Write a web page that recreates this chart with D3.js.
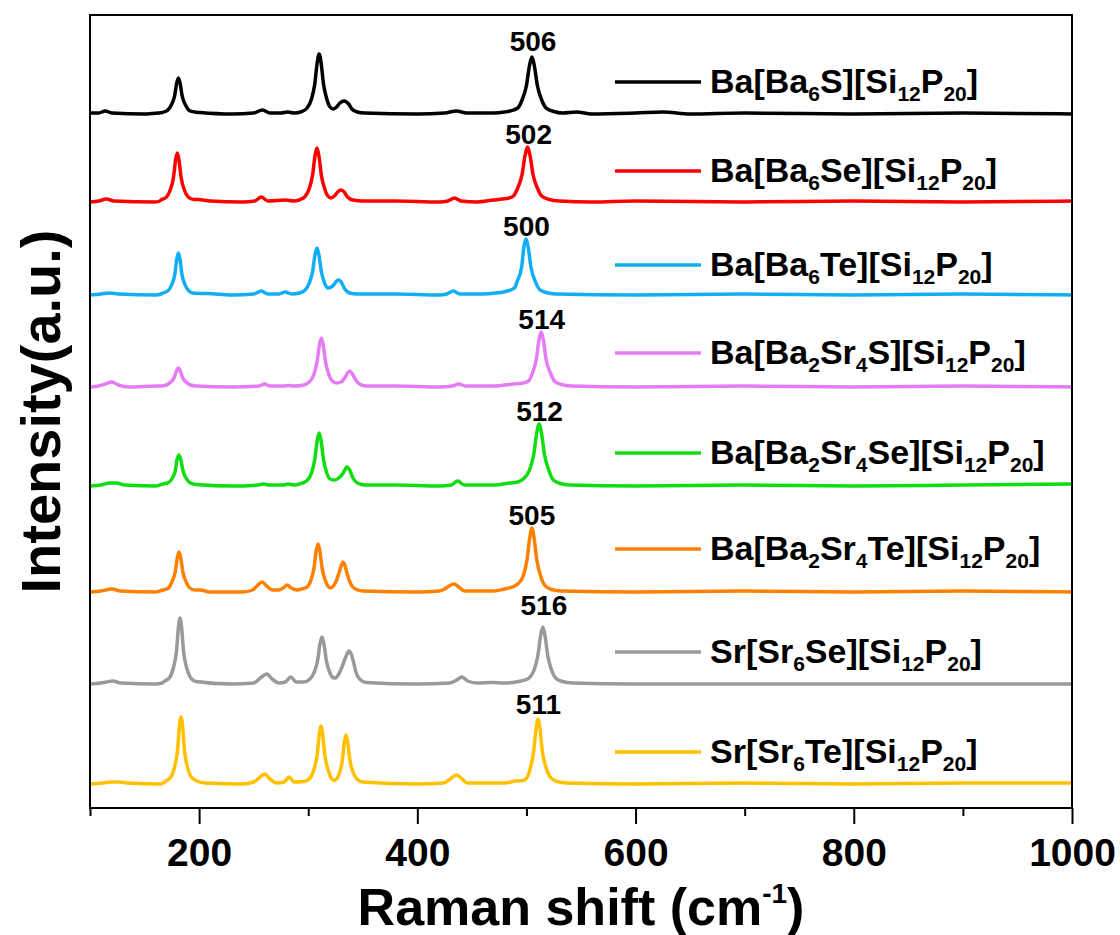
<!DOCTYPE html>
<html>
<head>
<meta charset="utf-8">
<script src="https://cdn.jsdelivr.net/npm/d3@7"></script>
<style>
  body { margin: 0; background: #fff; }
  text { font-family: "Liberation Sans", Arial, sans-serif; font-weight: bold; fill: #000; }
</style>
</head>
<body>
<div id="chart"></div>
<script>
// sample names (every digit is a subscript)
var names = ["Ba[Ba6S][Si12P20]", "Ba[Ba6Se][Si12P20]", "Ba[Ba6Te][Si12P20]",
             "Ba[Ba2Sr4S][Si12P20]", "Ba[Ba2Sr4Se][Si12P20]", "Ba[Ba2Sr4Te][Si12P20]",
             "Sr[Sr6Se][Si12P20]", "Sr[Sr6Te][Si12P20]"];
var peakLabels = ["506", "502", "500", "514", "512", "505", "516", "511"];
// vertical stacking offset of each spectrum (a.u.)
var offsets = [694, 606, 513, 421, 322, 216, 124, 24];
var xTicks = [200, 400, 600, 800, 1000];
var xMinorTicks = [100, 300, 500, 700, 900];

// spectra: [Raman shift (cm-1), intensity (a.u.)]
var ba6S = [[100,1],[108,1],[114,3],[120,1],[150,0],[162,1],
  [166,1.5],[171,3.6],[174.5,9],[177.5,18],[179.4,30.6],[181,36],[182.6,30.6],[184.5,18],[187.5,9],[191,3.6],[196,2],
  [201,1.5],[230,0],[250,1],[258,4],[265,1],[275,1],[281,2],[287,1],
  [294,2.4],[299,6],[303,15],[306,30],[308.2,51],[310,60],[311.8,51],[314,30],[317,15],[320,7],[323,5],
  [326,7],[329,11],[333,13],[337,10],[340,5],[345,2],[352,1],
  [400,0],[425,1],[436,3],[445,1],[470,1],[480,2],
  [485,3],[492,6],[496,14],[500,28.5],[502.8,48.5],[505,57],[507.2,48.5],[510,28.5],[514,14],[518,6],[525,2.5],[533,1],
  [546,2],[560,0],[600,1],[625,2],[650,0],[700,1],[800,0],[900,1],[1000,0]];

var ba6Se = [[100,0],[108,1],[115,3],[122,1],[160,0],[164,1],
  [165,2],[170,4.9],[173.5,12],[176.5,24.5],[178.4,41.6],[180,49],[181.6,41.6],[183.5,24.5],[186.5,12],[190,5],[195,2.5],
  [199,2.5],[210,1],[240,0],[251,1],[257,5],[263,1],[279,2],[287,1],
  [292,2.2],[297,5.4],[301,13.5],[304,27],[306.2,46],[308,54],[309.8,46],[312,27],[315,13.5],[318,6],[321,4],
  [324,6],[327,10],[330,12],[333,10],[336,5],[341,2],[350,1],
  [380,1],[420,0],[428,1],[434,4],[440,1],[455,0],[470,2],[478,3],
  [484,4],[488,6],[492,14],[496,27.5],[498.8,47],[501,55],[503.2,47],[506,27.5],[510,14],[514,6],[521,2.5],[530,1],
  [560,0],[600,1],[700,0],[800,1],[900,0],[1000,1]];

var ba6Te = [[100,0],[110,1],[118,2],[126,1],[160,0],[165,1],
  [167,2],[171.5,4.2],[175,10.5],[177.8,21],[179.5,35.7],[181,42],[182.5,35.7],[184.2,21],[187,10.5],[190.5,4.2],[195,1.7],
  [208,1.5],[230,0],[250,1],[257,4],[263,1],[273,1],[279,3],[285,1],
  [292,2],[297,4.7],[301,12],[304,23.5],[306.2,40],[308,47],[309.8,40],[312,23.5],[315,12],[318,7],[321,8],
  [324,11],[326,14],[328,15],[330.5,12.5],[333.5,6],[338,2],[345,1],
  [380,1],[420,0],[427,1],[433,4],[439,1],[460,1],[472,2],[479,3],
  [484,4.5],[489,7],[491.6,14],[495.6,28],[497.6,47.6],[499.6,56],[501.6,47.6],[504.1,28],[508,14],[512,5.6],[518,2.5],[527,1],
  [600,0],[700,1],[800,0],[900,1],[1000,0]];

var ba2Sr4S = [[100,0],[108,1],[114,3],[120,5],[126,2],[135,0],[162,1],
  [165,1],[170,2],[174,5],[177.2,9.5],[179.3,16],[181,19],[182.7,16],[184.8,9.5],[188,5],[192,2],[197,1],
  [230,0],[255,1],[260,3],[265,1],[278,1],[282,1.5],[286,1],
  [294,1.5],[301,5],[305,12],[308,24.5],[310.2,41.5],[312,49],[313.8,41.5],[316,24.5],[319,12],[322,6],[326,4],
  [330,5],[334,10],[336,14],[338,16],[340.5,13],[343.5,7],[347,3],[353,1],
  [380,1],[420,0],[432,1],[438,3],[444,1],[470,1],[488,3],
  [497,4],[502,6],[505.5,14],[509,27.5],[511.5,47],[513.5,55],[515.5,47],[518,27.5],[522,14],[526,5.5],[532,2.5],[541,1],
  [600,0],[700,1],[800,0],[900,1],[1000,0]];

var ba2Sr4Se = [[100,0],[110,1],[118,3],[124,3],[132,1],[160,0],[164,1],
  [167,2],[172,3.5],[175.5,8],[178.2,15.5],[179.8,26.5],[181.5,31],[183.2,26.5],[185.2,15.5],[188,8],[191.5,3.5],[197,1.5],
  [230,0],[254,1],[259,2],[264,1],[277,1],[282,2],[287,1],
  [292,2],[299,5.5],[303,13],[306,26.5],[308.2,45],[310,53],[311.8,45],[314,26.5],[317,13],[320,7],[324,6],
  [328,8],[332,13],[334,17],[335.5,19],[338,16],[341,8],[345,3],[352,1],
  [380,1],[420,0],[431,1],[437,5],[443,1],[470,1],[485,3],
  [492,4],[497,7],[502.6,15.5],[506.6,31],[509.4,52.7],[511.6,62],[513.8,52.7],[516.6,31],[520.6,15.5],[524.6,6],[531,2.5],[540,1],
  [600,0],[700,1],[800,0],[900,1],[1000,2]];

var ba2Sr4Te = [[100,0],[110,1],[120,3],[128,1],[160,0],[164,1],
  [167,2],[172,4],[175,10],[178.1,20],[180,34],[181.6,40],[183.2,34],[185.1,20],[188.1,10],[191.5,4],[196,2],
  [201,2],[210,0],[240,0],[249,2],[253,6],[257.6,10],[262,6],[267,2],[273,2],[277,4],[280.7,7],[284.5,4],[290,2],
  [294,3],[299,5],[302.5,12],[305.3,24],[307.3,41],[309,48],[310.7,41],[312.7,24],[315.5,12],[318,6],[320.5,4],
  [323,6],[326,12],[328.5,20],[330.5,27],[332,30],[333.5,27],[336,17],[339,8],[343,3],[350,1],
  [400,0],[420,1],[425,3],[429,6],[433.6,8],[438,5],[443,1],[470,1],[480,3],
  [487,5],[492,8],[497,16],[500.5,32],[503,54],[505,64],[507,54],[509.5,32],[513,16],[517,6.5],[523,2.5],[532,1],
  [600,0],[700,1],[800,0],[900,1],[1000,0]];

var sr6Se = [[100,0],[110,1],[115,2],[121,3],[128,1],[160,0],[166,1],
  [168,2.6],[173,6.6],[176.5,16.5],[179.3,33],[181,56],[182.5,66],[184,56],[185.7,33],[188.5,16.5],[192,6.6],[197,2.5],
  [230,0],[250,1],[256,6],[262,10],[267,5],[273,1],[279,2],[284,7],[289,2],
  [296,2],[301.6,5],[305.6,12],[308.6,23.5],[310.8,40],[312.6,47],[314.4,40],[316.6,23.5],[319.6,12],[322.6,6.5],[325,6],
  [328,10],[331,17],[334,26],[336,31],[337.4,33],[339,31],[341.5,22],[344,11],[347.5,4.5],[353,1.5],
  [400,0],[430,1],[436,4],[441,7],[446,3],[455,1],[468,1.5],[480,1],[495,3],[501,5],
  [504,8],[507,14],[510.5,28.5],[513,48.5],[515,57],[517,48.5],[519.5,28.5],[523,14],[527,5.7],[533,2.5],[542,1],
  [600,0],[700,0],[800,0],[900,0],[1000,0]];

var sr6Te = [[100,0],[112,1],[120,2],[126,2],[134,1],[165,0],
  [169,2.5],[174,6.7],[177.4,16.7],[180.2,33.5],[181.9,57],[183.4,67],[184.9,57],[186.6,33.5],[189.4,16.7],[193,6.7],[198,3],
  [205,1],[240,0],[250,2],[255,6],[260,10],[265,5],[271,1],[278,2],[282.5,7],[287,2],
  [296,2.5],[301.7,6],[305.2,14.5],[308.2,29],[310.1,49],[311.7,58],[313.3,49],[315.2,29],[318.2,14.5],[321,6],[323.5,3.5],
  [326,5],[328.6,11],[331.4,24.5],[333,41.6],[334.6,49],[336.2,41.6],[338.1,24.5],[341,12],[344.6,5],[350,2],
  [400,0],[424,1],[430,5],[436,9],[441,5],[446,1],[480,1],[490,3],[497,3.5],
  [501,7.5],[503.6,16],[506.6,32.5],[508.8,55],[510.6,65],[512.4,55],[514.6,32.5],[518.1,16],[522.1,6.5],[528,2.5],[537,1],
  [600,0],[700,1],[800,0],[900,1],[1000,1]];

var spectra = [ba6S, ba6Se, ba6Te, ba2Sr4S, ba2Sr4Se, ba2Sr4Te, sr6Se, sr6Te];
var colors = ["#000000", "#ff0000", "#12aef5", "#e57bf5", "#12dd12", "#ff8000", "#999999", "#ffc000"];

// drawing area
var W = 1120, H = 935;
var margin = {top: 15, right: 48, bottom: 127, left: 90};
var width = W - margin.left - margin.right;
var height = H - margin.top - margin.bottom;

var svg = d3.select("#chart").append("svg")
    .attr("width", W)
    .attr("height", H);
var g = svg.append("g")
    .attr("transform", "translate(" + margin.left + "," + margin.top + ")");

var x = d3.scaleLinear().domain([100, 1000]).range([0, width]);
var y = d3.scaleLinear().domain([0, height]).range([height, 0]);

var line = d3.line()
    .x(function(d) { return x(d[0]); })
    .curve(d3.curveMonotoneX);

// spectra
spectra.forEach(function(s, i) {
    g.append("path")
        .datum(s)
        .attr("fill", "none")
        .attr("stroke", colors[i])
        .attr("stroke-width", 3.5)
        .attr("stroke-linejoin", "round")
        .attr("d", line.y(function(d) { return y(d[1] + offsets[i]); }));
});

// peak labels
spectra.forEach(function(s, i) {
    var top = d3.max(s, function(d) { return d[1]; });
    g.append("text")
        .attr("x", x(+peakLabels[i]))
        .attr("y", y(top + offsets[i]) - 3)
        .attr("text-anchor", "middle")
        .style("font-size", "28px")
        .text(peakLabels[i]);
});

// frame
g.append("rect")
    .attr("width", width)
    .attr("height", height)
    .attr("fill", "none")
    .attr("stroke", "#000")
    .attr("stroke-width", 2);

// x axis, major and minor ticks
var xAxis = g.append("g")
    .attr("transform", "translate(0," + height + ")")
    .call(d3.axisBottom(x).tickValues(xTicks).tickFormat(d3.format("d"))
        .tickSize(16).tickSizeOuter(0).tickPadding(14));
xAxis.select(".domain").remove();
xAxis.selectAll("line").attr("stroke-width", 2);
xAxis.selectAll("text")
    .style("font-size", "39px")
    .style("font-family", "'Liberation Sans', Arial, sans-serif")
    .style("font-weight", "bold")
    .attr("fill", "#000");

var xMinor = g.append("g")
    .attr("transform", "translate(0," + height + ")")
    .call(d3.axisBottom(x).tickValues(xMinorTicks).tickSize(8).tickSizeOuter(0).tickFormat(""));
xMinor.select(".domain").remove();
xMinor.selectAll("line").attr("stroke-width", 2);

// axis titles
var xt = svg.append("text")
    .attr("x", margin.left + width / 2)
    .attr("y", 925)
    .attr("text-anchor", "middle")
    .style("font-size", "52px");
xt.append("tspan").text("Raman shift (cm");
xt.append("tspan").attr("dy", -22).style("font-size", "28px").text("-1");
xt.append("tspan").attr("dy", 22).text(")");

svg.append("text")
    .attr("transform", "translate(60," + (margin.top + height / 2) + ") rotate(-90)")
    .attr("text-anchor", "middle")
    .style("font-size", "56px")
    .text("Intensity(a.u.)");

// legend
var legendY = [82, 171, 265, 353, 453, 549, 652, 752];
names.forEach(function(n, i) {
    svg.append("line")
        .attr("x1", 615).attr("x2", 701)
        .attr("y1", legendY[i]).attr("y2", legendY[i])
        .attr("stroke", colors[i])
        .attr("stroke-width", 3.5);
    var t = svg.append("text")
        .attr("x", 710)
        .attr("y", legendY[i] + 11)
        .style("font-size", "34px");
    // split into text and digit runs, digits become subscripts
    var parts = n.match(/\d+|\D+/g);
    var shifted = false;
    parts.forEach(function(p) {
        var isSub = /\d/.test(p);
        var ts = t.append("tspan").text(p);
        if (isSub) {
            ts.style("font-size", "21px");
            if (!shifted) { ts.attr("dy", 8); shifted = true; }
        } else if (shifted) {
            ts.attr("dy", -8);
            shifted = false;
        }
    });
});
</script>
</body>
</html>
